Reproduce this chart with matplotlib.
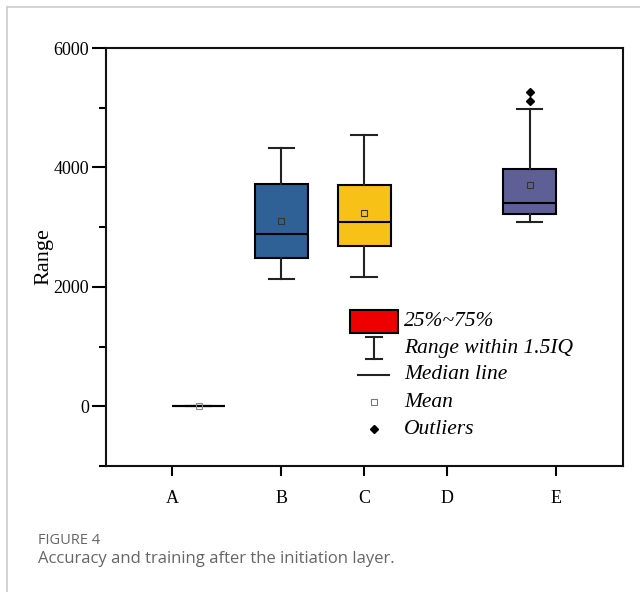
import matplotlib
matplotlib.use("Agg")
import matplotlib.pyplot as plt
from matplotlib.patches import Rectangle
from matplotlib.lines import Line2D

# ---- data ----
categories = ["A", "B", "C", "D", "E"]
tick_pos = [0.68, 2, 3, 4, 5.32]
box_labels = ["A", "B", "C", "E"]
box_pos = [1, 2, 3, 5]
q1 = [0, 2480, 2690, 3220]
median = [0, 2880, 3080, 3410]
q3 = [0, 3730, 3700, 3975]
whislo = [0, 2130, 2160, 3080]
whishi = [0, 4330, 4540, 4985]
means = [0, 3110, 3235, 3700]
fliers = [[], [], [], [5260, 5120]]
box_colors = ["#ffffff", "#2f6196", "#f8c118", "#5f5f97"]

plt.rcParams["font.family"] = "serif"
plt.rcParams["font.serif"] = ["Liberation Serif", "DejaVu Serif"]

fig = plt.figure(figsize=(6.4, 5.92), dpi=100)
ax = fig.add_axes([0.1656, 0.2128, 0.8078, 0.7061])

stats = []
for i in range(len(box_labels)):
    stats.append(dict(label=box_labels[i], q1=q1[i], med=median[i], q3=q3[i],
                      whislo=whislo[i], whishi=whishi[i], mean=means[i],
                      fliers=fliers[i]))

bp = ax.bxp(stats, positions=box_pos, widths=0.64, capwidths=0.31,
            patch_artist=True, showmeans=True, manage_ticks=False,
            boxprops=dict(edgecolor="black", linewidth=1.5),
            whiskerprops=dict(color="#222222", linewidth=1.5),
            capprops=dict(color="#222222", linewidth=1.5),
            medianprops=dict(color="black", linewidth=1.5),
            meanprops=dict(marker="s", markersize=4, markerfacecolor="none",
                           markeredgecolor="#333333", markeredgewidth=0.8),
            flierprops=dict(marker="D", markersize=4.5, markerfacecolor="black",
                            markeredgecolor="black"))
for patch, c in zip(bp["boxes"], box_colors):
    patch.set_facecolor(c)
# Box A collapses to a single line
bp["boxes"][0].set_edgecolor("#222222")
bp["means"][0].set_markeredgecolor("#888888")

ax.set_xlim(-0.12, 6.13)
ax.set_ylim(-1000, 6000)
ax.set_xticks(tick_pos)
ax.set_xticklabels(categories)
ax.set_yticks([0, 2000, 4000, 6000])
ax.set_yticks([-1000, 1000, 3000, 5000], minor=True)
ax.tick_params(axis="y", which="major", direction="out", length=10, width=1.5, labelsize=13, pad=2)
ax.tick_params(axis="y", which="minor", direction="out", length=5, width=1.5)
ax.tick_params(axis="x", which="major", direction="out", length=7, width=1.5, labelsize=13, pad=10)
for s in ax.spines.values():
    s.set_linewidth(1.5)
    s.set_color("#111111")
ax.set_ylabel("Range", fontsize=16, labelpad=0)

# ---- legend (drawn in axes fraction) ----
T = ax.transAxes
ax.add_patch(Rectangle((0.472, 0.318), 0.093, 0.055, transform=T,
                       facecolor="#ee0000", edgecolor="black", linewidth=1.5))
xs = 0.518
ax.add_line(Line2D([xs, xs], [0.256, 0.309], transform=T, color="#222222", lw=1.5))
ax.add_line(Line2D([xs - 0.016, xs + 0.016], [0.309, 0.309], transform=T, color="#222222", lw=1.5))
ax.add_line(Line2D([xs - 0.016, xs + 0.016], [0.256, 0.256], transform=T, color="#222222", lw=1.5))
ax.add_line(Line2D([0.488, 0.547], [0.218, 0.218], transform=T, color="#222222", lw=1.5))
ax.add_line(Line2D([xs], [0.153], transform=T, marker="s", markersize=4,
                   markerfacecolor="none", markeredgecolor="#777777", markeredgewidth=0.8))
ax.add_line(Line2D([xs], [0.0885], transform=T, marker="D", markersize=4.5,
                   markerfacecolor="black", markeredgecolor="black"))
leg_texts = ["25%~75%", "Range within 1.5IQ", "Median line", "Mean", "Outliers"]
leg_y = [0.345, 0.280, 0.218, 0.153, 0.0885]
for t, yy in zip(leg_texts, leg_y):
    ax.text(0.576, yy, t, transform=T, fontsize=15.5, style="italic",
            va="center", ha="left")

# ---- caption and card frame ----
fig.text(38 / 640, 1 - 540 / 592, "FIGURE 4", fontsize=10.5, color="#666666",
         family=["Open Sans", "DejaVu Sans"], va="center", ha="left")
fig.text(38 / 640, 1 - 559 / 592, "Accuracy and training after the initiation layer.",
         fontsize=12, color="#666666", family=["Open Sans", "DejaVu Sans"],
         va="center", ha="left")
fig.add_artist(Line2D([7 / 640, 7 / 640], [0, 1 - 7 / 592], transform=fig.transFigure,
                      color="#cccccc", lw=1.2))
fig.add_artist(Line2D([7 / 640, 1], [1 - 7 / 592, 1 - 7 / 592], transform=fig.transFigure,
                      color="#cccccc", lw=1.2))

fig.savefig("out.png", dpi=100)
